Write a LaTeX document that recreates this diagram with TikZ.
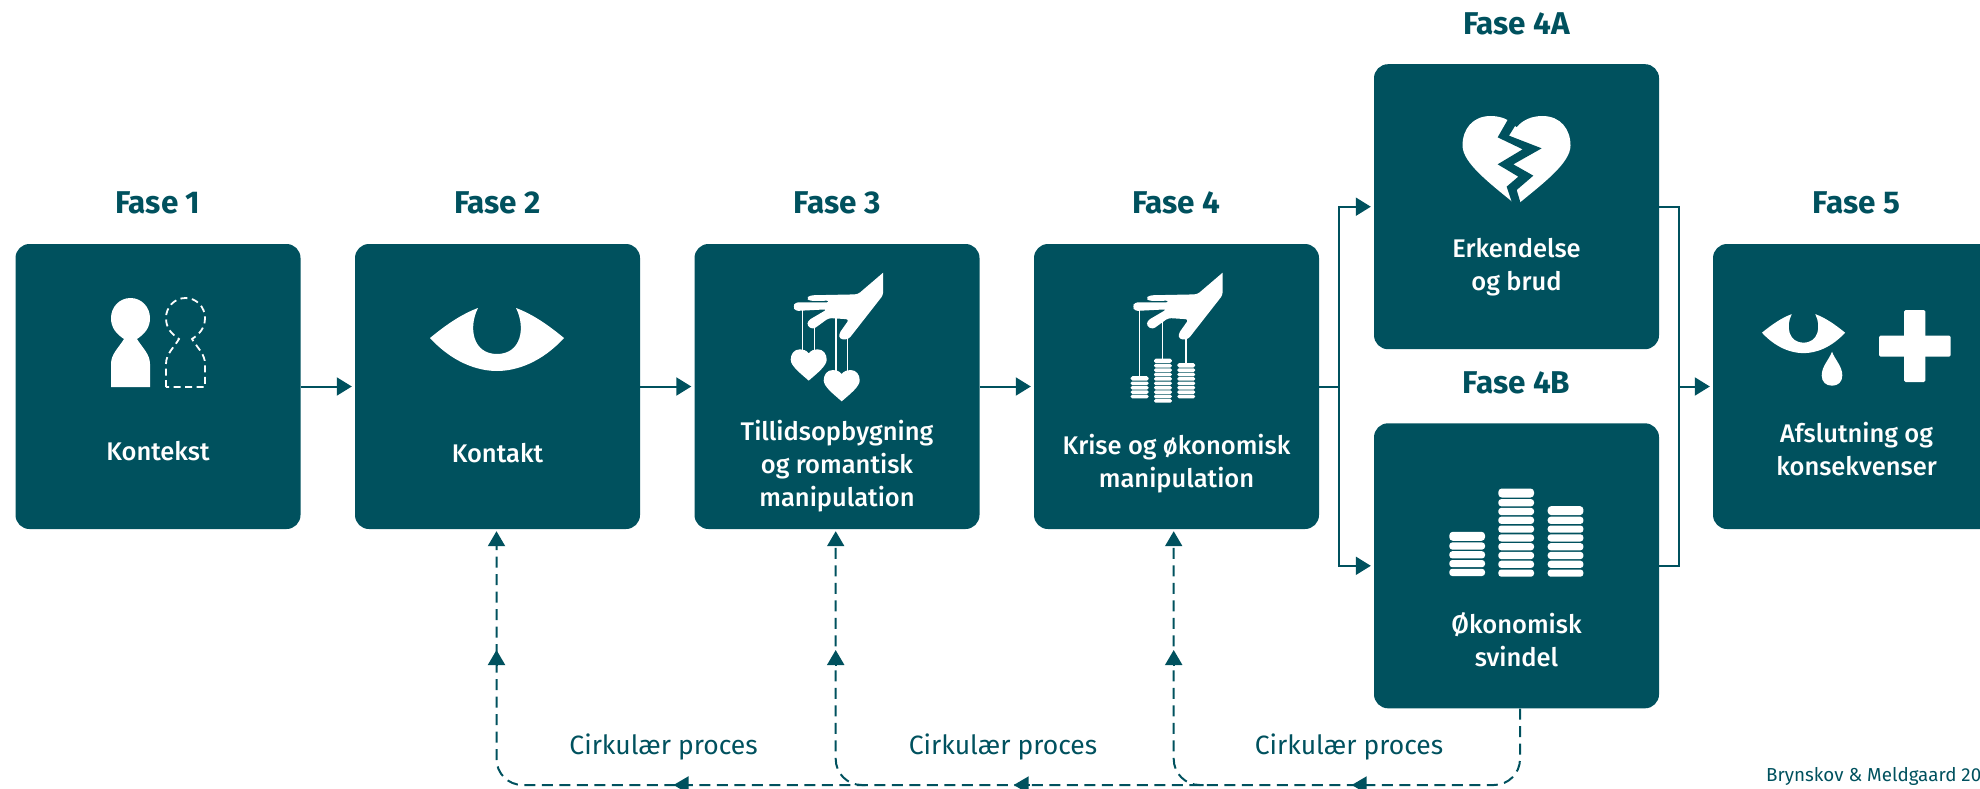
\documentclass[tikz,border=0pt]{standalone}
\usepackage{fontspec}
\setmainfont{Fira Sans}
\newfontfamily\fasemedium{Fira Sans Medium}
\usetikzlibrary{arrows.meta,calc,positioning}
\definecolor{fasegreen}{HTML}{00515E}
\newcommand{\coinpile}[4]{
	\begin{scope}[shift={(#1,#2)},scale=#4]
		\foreach \n in {2,...,#3}
			\fill[white,rounded corners=#4*3pt] (0,{-8.8*(\n-2)}) rectangle (35.7,{-8.8*(\n-2)-7.2});
		\fill[white,rounded corners=#4*3.5pt] (0,{-8.8*(#3-1)}) rectangle (35.7,{-8.8*(#3-1)-9});
	\end{scope}
}
\tikzset{
	fasebox/.style={draw=none,fill=fasegreen,rounded corners=14pt,minimum width=285pt,minimum height=285pt,inner sep=0pt},
	fasetitle/.style={text=fasegreen,font=\fontsize{31.5}{36}\selectfont\bfseries,inner sep=0pt},
	fasetext/.style={text=white,align=center,font=\fontsize{25.5}{33}\selectfont\fasemedium,inner sep=0pt},
	looptext/.style={text=fasegreen,font=\fontsize{26.5}{30}\selectfont,inner sep=0pt},
	wire/.style={draw=fasegreen,line width=2pt},
	flow/.style={wire,-{Triangle[length=15pt,width=18pt]},shorten >=3pt},
	loopwire/.style={wire,dash pattern=on 11pt off 6.5pt},
	loopflow/.style={loopwire,-{Triangle[length=15pt,width=17pt]},shorten >=2pt},
	midtip/.style={wire,-{Triangle[length=15pt,width=17pt]}},
	thread/.style={draw=white,line width=1.5pt},
	pics/personshape/.style={code={
		\path[pic actions] (-19.5,69) -- (-19.5,46) .. controls (-19.5,36) and (-12,30) .. (-6.5,21)
			.. controls (-14,16) and (-19.5,10) .. (-19.5,0) .. controls (-19.5,-11) and (-11,-20) .. (0,-20)
			.. controls (11,-20) and (19.5,-11) .. (19.5,0) .. controls (19.5,10) and (14,16) .. (6.5,21)
			.. controls (12,30) and (19.5,36) .. (19.5,46) -- (19.5,69) -- cycle;
	}},
	pics/eyeshape/.style={code={
		\fill[white] (-67,0) .. controls (-50,-14) and (-35,-24) .. (-19,-30)
			.. controls (-29,-10) and (-24,16) .. (0,16) .. controls (24,16) and (29,-10) .. (19,-30)
			.. controls (35,-24) and (50,-14) .. (67,0) .. controls (45,24) and (20,33) .. (0,33)
			.. controls (-20,33) and (-45,24) .. (-67,0) -- cycle;
	}},
	pics/heartshape/.style={code={
		\fill[white] (0,12) .. controls (-7,3) and (-17,0) .. (-26,0) .. controls (-44,0) and (-54,14) .. (-54,31)
			.. controls (-54,50) and (-25,72) .. (0,94) .. controls (25,72) and (54,50) .. (54,31)
			.. controls (54,14) and (44,0) .. (26,0) .. controls (17,0) and (7,3) .. (0,12) -- cycle;
	}},
	pics/handshape/.style={code={
		\fill[white,rounded corners=3pt] (338,38) -- (338,105) -- (234,238) -- (208,238) -- (205,222) -- (236,178)
			-- (175,174) -- (128,208) -- (110,198) -- (112,182) -- (170,148) -- (74,153) -- (68,140) -- (74,127)
			-- (178,127) -- (178,122) -- (118,123) -- (108,115) -- (118,106) -- (262,103) -- (338,38);
	}}
}
\begin{document}
\begin{tikzpicture}[x=1pt,y=-1pt]
	\path[use as bounding box,clip] (0,0) rectangle (1980,789);
	\node[fasebox] (f1) at (158,386.5) {};
	\node[fasebox] (f2) at (497.5,386.5) {};
	\node[fasebox] (f3) at (837,386.5) {};
	\node[fasebox] (f4) at (1176.5,386.5) {};
	\node[fasebox] (f4a) at (1516.5,206.7) {};
	\node[fasebox] (f4b) at (1516.5,565.8) {};
	\node[fasebox] (f5) at (1855.5,386.5) {};

	\node[fasetitle] (t1) at (158,203) {Fase 1};
	\node[fasetitle] (t2) at (497.5,203) {Fase 2};
	\node[fasetitle] (t3) at (837,203) {Fase 3};
	\node[fasetitle] (t4) at (1176.5,203) {Fase 4};
	\node[fasetitle] (t4a) at (1516.5,24) {Fase 4A};
	\node[fasetitle] (t4b) at (1516.5,383) {Fase 4B};
	\node[fasetitle] (t5) at (1856.5,203) {Fase 5};

	\node[fasetext] (l1) at (158,451) {Kontekst};
	\node[fasetext] (l2) at (497.5,453) {Kontakt};
	\node[fasetext] (l3) at (837,466) {Tillidsopbygning\\og romantisk\\manipulation};
	\node[fasetext] (l4) at (1176.5,463.5) {Krise og økonomisk\\manipulation};
	\node[fasetext] (l4a) at (1516.5,267.5) {Erkendelse\\og brud};
	\node[fasetext] (l4b) at (1516.5,640) {Økonomisk\\svindel};
	\node[fasetext] (l5) at (1856.5,449.5) {Afslutning og\\konsekvenser};

	\coordinate (s4) at (1339,386.5);
	\coordinate (m5) at (1679,386.5);
	\draw[flow] (f1) -- (f2);
	\draw[flow] (f2) -- (f3);
	\draw[flow] (f3) -- (f4);
	\draw[wire] (f4) -- (s4);
	\draw[flow] (s4) |- (f4a);
	\draw[flow] (s4) |- (f4b);
	\draw[wire] (f4a) -| (m5);
	\draw[wire] (f4b) -| (m5);
	\draw[flow] (m5) -- (f5);

	\coordinate (c2) at (496.5,785);
	\coordinate (c3) at (835.7,785);
	\coordinate (c4) at (1173.7,785);
	\coordinate (c5) at (1520,785);
	\draw[loopflow,rounded corners=26pt] (c5 |- f4b.south) -- (c5) -- (c2) -- (c2 |- f2.south);
	\draw[loopflow,rounded corners=26pt] ($(c3)+(30,0)$) -- (c3) -- (c3 |- f3.south);
	\draw[loopflow,rounded corners=26pt] ($(c4)+(30,0)$) -- (c4) -- (c4 |- f4.south);
	\draw[midtip] ($(c2)+(0,-119)$) -- ($(c2)+(0,-135)$);
	\draw[midtip] ($(c3)+(0,-119)$) -- ($(c3)+(0,-135)$);
	\draw[midtip] ($(c4)+(0,-119)$) -- ($(c4)+(0,-135)$);
	\draw[midtip] ($(c2)+(193,0)$) -- ($(c2)+(177,0)$);
	\draw[midtip] ($(c3)+(194,0)$) -- ($(c3)+(178,0)$);
	\draw[midtip] ($(c4)+(194,0)$) -- ($(c4)+(178,0)$);
	\node[looptext] (p1) at (663.6,746.7) {Cirkulær proces};
	\node[looptext] (p2) at (1003,746.7) {Cirkulær proces};
	\node[looptext] (p3) at (1349,746.7) {Cirkulær proces};
	\node[text=fasegreen,font=\fontsize{18.8}{22}\selectfont,inner sep=0pt,anchor=west] (credit) at (1766,776.7) {Brynskov \& Meldgaard 20};

	\pic[fill=white] at (130.5,318) {personshape};
	\pic[draw=white,line width=1.8pt,dash pattern=on 7pt off 4.5pt] at (185.5,318) {personshape};

	\pic at (497,338) {eyeshape};

	\draw[thread] (802.3,310) -- (802.3,352);
	\draw[thread] (814.3,325) -- (814.3,352);
	\draw[thread] (836,318) -- (836,373);
	\draw[thread] (847.3,337) -- (847.3,373);
	\pic[scale=0.3333] at (770.5,260) {handshape};
	\pic[scale=0.3333] at (808.7,349.3) {heartshape};
	\pic[scale=0.3333] at (841.7,370) {heartshape};

	\draw[thread] (1139.3,310) -- (1139.3,378);
	\draw[thread] (1162.7,320) -- (1162.7,362);
	\draw[thread] (1186,335) -- (1186,365);
	\pic[scale=0.3333] at (1110,260) {handshape};
	\coinpile{1130.7}{398.3}{5}{0.5}
	\coinpile{1154}{402.7}{10}{0.5}
	\coinpile{1177.3}{398.3}{8}{0.5}

	\pic[yscale=0.95] at (1516.5,116) {heartshape};
	\begin{scope}[shift={(1450,105)},scale=0.3333]
		\fill[fasegreen] (178,36) -- (143,97) -- (218,133) -- (143,178) -- (205,215) -- (170,245) -- (190,305)
			-- (215,305) -- (200,255) -- (250,212) -- (190,178) -- (275,130) -- (177,92) -- (200,55) -- (200,36) -- cycle;
	\end{scope}

	\coinpile{1449.3}{576}{5}{1}
	\coinpile{1498.3}{576.7}{10}{1}
	\coinpile{1547.7}{576.7}{8}{1}

	\pic[scale=0.62] at (1803.5,332.7) {eyeshape};
	\fill[white] (1832,351.7) .. controls (1829,360) and (1821.7,366) .. (1821.7,375.5)
		.. controls (1821.7,382) and (1826,385.7) .. (1832,385.7) .. controls (1838,385.7) and (1842.3,382) .. (1842.3,375.5)
		.. controls (1842.3,366) and (1835,360) .. (1832,351.7) -- cycle;
	\fill[white,rounded corners=1.5pt] (1904,310) rectangle (1925.3,382);
	\fill[white,rounded corners=1.5pt] (1879,335.7) rectangle (1950.7,356.7);
\end{tikzpicture}
\end{document}
